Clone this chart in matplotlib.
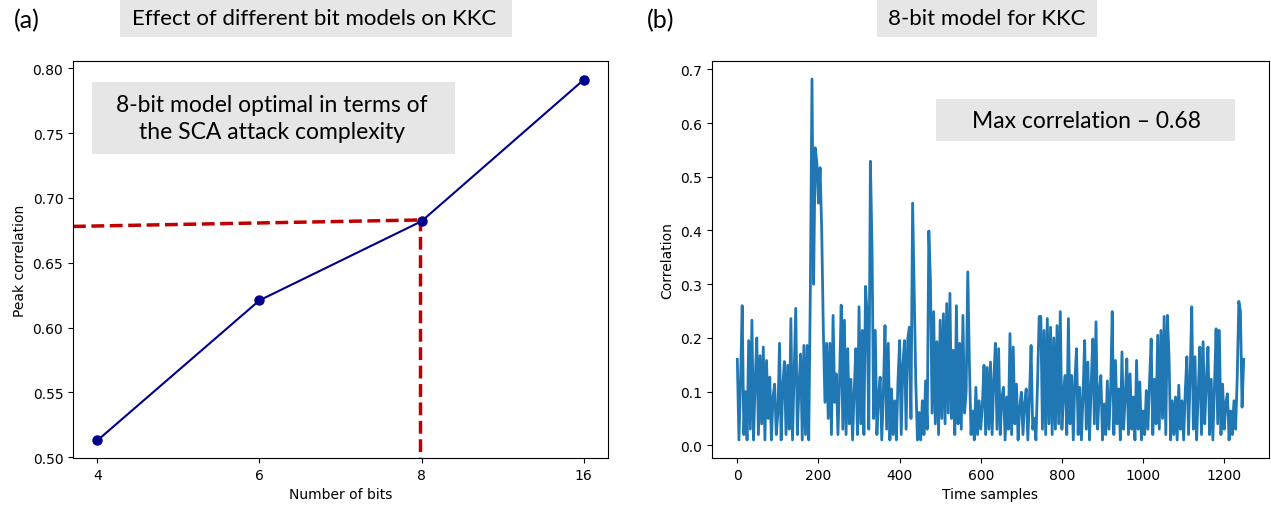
import numpy as np
import matplotlib
matplotlib.use("Agg")
import matplotlib.pyplot as plt
from matplotlib.patches import Rectangle

# (a) peak correlation per bit model
bit_labels = ["4", "6", "8", "16"]
peak_corr = [0.513, 0.621, 0.682, 0.791]
guide_y = [0.678, 0.683]   # red dashed guide, left end -> 8-bit point

# (b) correlation trace for the 8-bit model, read every 4 samples
sample_step = 4
corr_trace = [
    0.16, 0.01, 0.12, 0.26, 0.02, 0.10, 0.01, 0.195, 0.03, 0.233, 0.01, 0.12, 0.20, 0.02, 0.167, 0.04, 0.183, 0.01, 0.158, 0.05, 0.127, 0.01, 0.09, 0.114, 0.02,
    0.06, 0.19, 0.01, 0.11, 0.156, 0.02, 0.149, 0.03, 0.236, 0.01, 0.13, 0.255, 0.02, 0.11, 0.17, 0.01, 0.186, 0.02, 0.186, 0.01, 0.289, 0.682, 0.30, 0.554, 0.526,
    0.451, 0.517, 0.40, 0.214, 0.08, 0.19, 0.05, 0.19, 0.02, 0.242, 0.08, 0.133, 0.02, 0.12, 0.261, 0.03, 0.233, 0.02, 0.18, 0.04, 0.123, 0.01, 0.10, 0.18, 0.02,
    0.258, 0.04, 0.214, 0.02, 0.296, 0.245, 0.03, 0.529, 0.367, 0.05, 0.214, 0.02, 0.09, 0.127, 0.01, 0.10, 0.223, 0.03, 0.19, 0.01, 0.105, 0.02, 0.083, 0.01, 0.12,
    0.195, 0.02, 0.15, 0.195, 0.03, 0.198, 0.22, 0.05, 0.451, 0.277, 0.114, 0.01, 0.061, 0.01, 0.083, 0.02, 0.12, 0.03, 0.399, 0.305, 0.06, 0.249, 0.04, 0.193, 0.02,
    0.233, 0.05, 0.245, 0.04, 0.264, 0.06, 0.283, 0.05, 0.177, 0.02, 0.26, 0.04, 0.19, 0.03, 0.242, 0.06, 0.10, 0.323, 0.152, 0.02, 0.064, 0.01, 0.108, 0.02, 0.083,
    0.03, 0.077, 0.149, 0.02, 0.145, 0.03, 0.155, 0.02, 0.12, 0.19, 0.03, 0.18, 0.02, 0.09, 0.108, 0.01, 0.09, 0.03, 0.208, 0.02, 0.183, 0.04, 0.114, 0.01, 0.07,
    0.099, 0.02, 0.08, 0.105, 0.01, 0.09, 0.186, 0.03, 0.05, 0.01, 0.12, 0.24, 0.24, 0.03, 0.214, 0.02, 0.236, 0.04, 0.22, 0.02, 0.20, 0.03, 0.223, 0.04, 0.249,
    0.03, 0.10, 0.13, 0.02, 0.236, 0.04, 0.13, 0.01, 0.12, 0.18, 0.02, 0.108, 0.01, 0.09, 0.195, 0.03, 0.155, 0.01, 0.11, 0.198, 0.04, 0.23, 0.03, 0.10, 0.13,
    0.01, 0.077, 0.02, 0.12, 0.03, 0.10, 0.249, 0.02, 0.158, 0.04, 0.105, 0.01, 0.174, 0.03, 0.09, 0.161, 0.02, 0.133, 0.03, 0.09, 0.01, 0.158, 0.03, 0.118, 0.01,
    0.064, 0.02, 0.102, 0.03, 0.12, 0.198, 0.02, 0.123, 0.04, 0.205, 0.03, 0.214, 0.05, 0.24, 0.02, 0.242, 0.165, 0.01, 0.083, 0.02, 0.09, 0.01, 0.112, 0.03, 0.083,
    0.01, 0.10, 0.165, 0.02, 0.13, 0.258, 0.03, 0.165, 0.01, 0.10, 0.183, 0.02, 0.193, 0.04, 0.12, 0.183, 0.02, 0.123, 0.01, 0.11, 0.217, 0.04, 0.214, 0.02, 0.114,
    0.03, 0.08, 0.096, 0.01, 0.064, 0.02, 0.083, 0.03, 0.123, 0.268, 0.249, 0.071, 0.16,
]

W, H = 1271, 510
fig = plt.figure(figsize=(W / 100, H / 100), dpi=100)
note_font = ["Lato", "DejaVu Sans"]


def box(x0, y0, x1, y1):
    # grey label box, given in pixel coords from the top-left
    fig.patches.append(Rectangle((x0 / W, 1 - y1 / H), (x1 - x0) / W, (y1 - y0) / H,
                                 transform=fig.transFigure, facecolor="#e6e6e6",
                                 edgecolor="none", zorder=0))


def note(x, y, s, size):
    fig.text(x / W, 1 - y / H, s, ha="center", va="center", fontsize=size,
             family=note_font, linespacing=1.3)


# ---- (a)
ax1 = fig.add_axes([73 / W, 1 - 459 / H, 535 / W, 397 / H])
xpos = np.arange(len(bit_labels))
ax1.plot(xpos, peak_corr, color="#00008b", marker="o", markersize=6.5, lw=1.5, zorder=3)
ax1.set_xlim(-0.15, 3.15)
ax1.set_ylim(0.4995, 0.8055)
ax1.plot([-0.15, xpos[2]], guide_y, color="#c00000", ls="--", lw=2.5, zorder=2)
ax1.plot([xpos[2] - 0.01, xpos[2] - 0.01], [0.49, guide_y[1]], color="#c00000",
         ls="--", lw=2.5, zorder=2)
ax1.set_xticks(xpos)
ax1.set_xticklabels(bit_labels)
ax1.set_yticks(np.arange(0.50, 0.801, 0.05))
ax1.set_xlabel("Number of bits")
ax1.set_ylabel("Peak correlation")

# ---- (b)
ax2 = fig.add_axes([712 / W, 1 - 459 / H, 557 / W, 397 / H])
t = np.arange(len(corr_trace)) * sample_step
ax2.plot(t, corr_trace, color="#1f77b4", lw=2.0)
ax2.set_xlabel("Time samples")
ax2.set_ylabel("Correlation")

# ---- overlaid labels
fig.text(14 / W, 1 - 21 / H, "(a)", fontsize=18, va="center", family=note_font)
fig.text(647 / W, 1 - 21 / H, "(b)", fontsize=18, va="center", family=note_font)
box(120, 0, 512, 38)
note(314, 19, "Effect of different bit models on KKC", 16)
box(877, 0, 1097, 38)
note(987, 19, "8-bit model for KKC", 16)
box(92, 83, 455, 155)
note(272, 119, "8-bit model optimal in terms of\nthe SCA attack complexity", 16.5)
box(936, 100, 1235, 142)
note(1086, 122, "Max correlation \u2013 0.68", 16.5)

fig.savefig("out.png", dpi=100)
